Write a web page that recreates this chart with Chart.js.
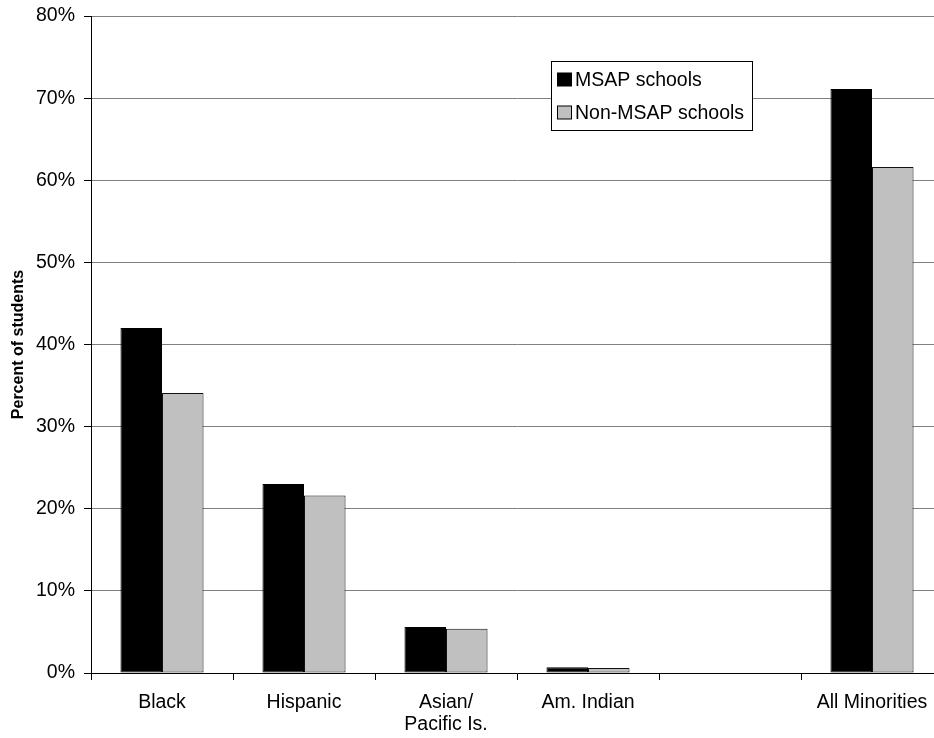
<!DOCTYPE html>
<html>
<head>
<meta charset="utf-8">
<script src="https://cdn.jsdelivr.net/npm/chart.js@4"></script>
<style>
  html, body { margin: 0; padding: 0; background: #fff; overflow: hidden; }
  #wrap { width: 960px; height: 738px; }
</style>
</head>
<body>
<div id="wrap"><canvas id="chart" width="960" height="738"></canvas></div>
<script>
'use strict';

// groups along the x axis (the fifth slot is left empty)
var categories = ['Black', 'Hispanic', ['Asian/', 'Pacific Is.'], 'Am. Indian', '', 'All Minorities'];
var msapValues = [42.0, 23.0, 5.6, 0.7, null, 71.1];
var nonMsapValues = [34.1, 21.6, 5.4, 0.6, null, 61.6];
var seriesNames = ['MSAP schools', 'Non-MSAP schools'];
var yTicks = [0, 10, 20, 30, 40, 50, 60, 70, 80];

var fontFamily = '"Liberation Sans", Arial, sans-serif';

// boxed legend drawn inside the plot area
var boxLegend = {
  id: 'boxLegend',
  afterDraw: function (chart, args, opts) {
    var ctx = chart.ctx,
      sets = chart.data.datasets;
    ctx.save();
    ctx.fillStyle = '#fff';
    ctx.fillRect(opts.x, opts.y, opts.w, opts.h);
    ctx.strokeStyle = '#000';
    ctx.lineWidth = 1;
    ctx.strokeRect(opts.x + 0.5, opts.y + 0.5, opts.w, opts.h);
    ctx.font = '19.5px ' + fontFamily;
    ctx.textBaseline = 'middle';
    ctx.textAlign = 'left';
    sets.forEach(function (ds, i) {
      var cy = opts.y + opts.firstRow + i * opts.rowGap;
      ctx.fillStyle = ds.backgroundColor;
      ctx.fillRect(opts.x + 6.5, cy - 6.5, 14, 13);
      ctx.strokeStyle = '#000';
      ctx.strokeRect(opts.x + 6.5, cy - 6.5, 14, 13);
      ctx.fillStyle = '#000';
      ctx.fillText(ds.label, opts.x + 24, cy + 1);
    });
    ctx.restore();
  }
};

var chartEl = document.getElementById('chart');
var chart = new Chart(chartEl, {
  type: 'bar',
  data: {
    labels: categories,
    datasets: [
      {
        label: seriesNames[0],
        data: msapValues,
        backgroundColor: '#000000',
        borderColor: '#000000',
        borderWidth: 1,
        borderSkipped: false
      },
      {
        label: seriesNames[1],
        data: nonMsapValues,
        backgroundColor: '#c0c0c0',
        borderColor: '#111111',
        borderWidth: 1,
        borderSkipped: false
      }
    ]
  },
  options: {
    responsive: false,
    animation: false,
    categoryPercentage: 0.585,
    barPercentage: 1.0,
    layout: { padding: { top: 16, right: 17, left: 0, bottom: 0 } },
    plugins: {
      legend: { display: false },
      tooltip: { enabled: false },
      boxLegend: { x: 551, y: 61, w: 201, h: 69, firstRow: 18.5, rowGap: 33 }
    },
    scales: {
      x: {
        offset: true,
        afterFit: function (scale) {
          scale.height = 65;
          scale.paddingLeft = 0;
          scale.paddingRight = 0;
        },
        grid: {
          display: true,
          offset: true,
          drawOnChartArea: false,
          drawTicks: true,
          tickLength: 7,
          tickColor: '#000'
        },
        border: { display: true, color: '#000', width: 1 },
        ticks: {
          color: '#000',
          padding: 12,
          maxRotation: 0,
          autoSkip: false,
          font: { family: fontFamily, size: 19.5, lineHeight: 1.12 }
        }
      },
      y: {
        min: 0,
        max: 80,
        afterFit: function (scale) {
          scale.width = 91;
          scale.paddingTop = 0;
          scale.paddingBottom = 0;
        },
        afterBuildTicks: function (scale) {
          scale.ticks = yTicks.map(function (v) { return { value: v }; });
        },
        grid: {
          color: '#808080',
          lineWidth: 1,
          tickLength: 7,
          tickColor: '#000'
        },
        border: { display: true, color: '#000', width: 1 },
        ticks: {
          color: '#000',
          padding: 9,
          font: { family: fontFamily, size: 19.5 },
          callback: function (v) { return v + '%'; }
        },
        title: {
          display: true,
          text: 'Percent of students',
          color: '#000',
          padding: { top: 9, bottom: 0 },
          font: { family: fontFamily, size: 16, weight: 'bold' }
        }
      }
    }
  },
  plugins: [boxLegend]
});
</script>
</body>
</html>
